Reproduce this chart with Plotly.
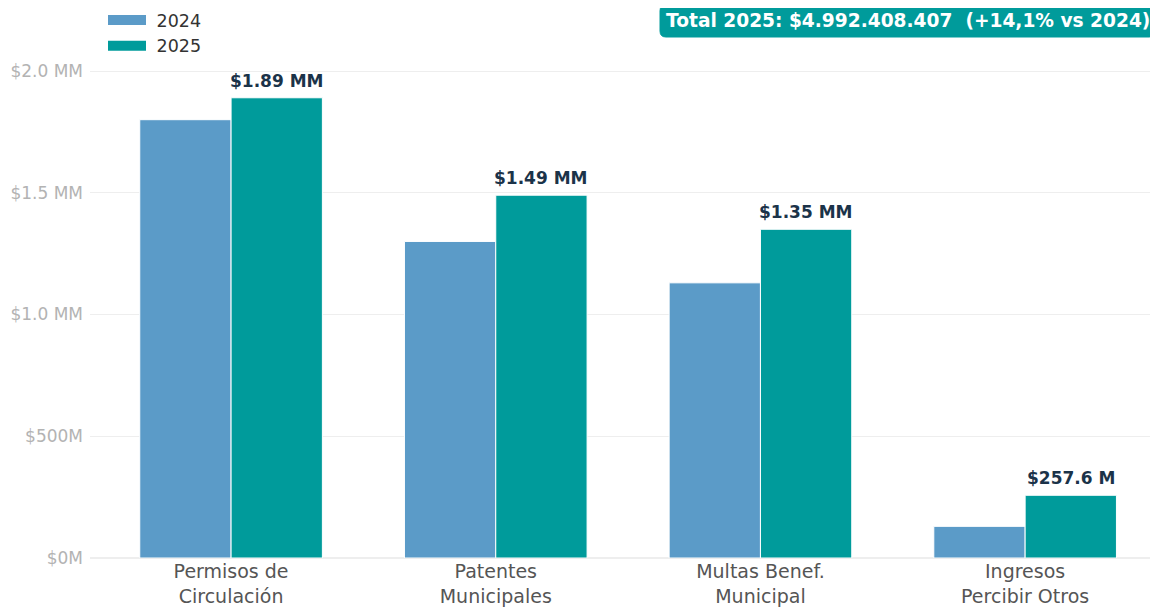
import plotly.graph_objects as go

categories = ["Permisos de<br>Circulación", "Patentes<br>Municipales", "Multas Benef.<br>Municipal", "Ingresos<br>Percibir Otros"]
values_2024 = [1.80e9, 1.30e9, 1.13e9, 0.13e9]
values_2025 = [1.89e9, 1.49e9, 1.35e9, 0.2576e9]
tick_vals = [0, 0.5e9, 1.0e9, 1.5e9, 2.0e9]
tick_text = ["$0M", "$500M", "$1.0 MM", "$1.5 MM", "$2.0 MM"]
badge_text = "Total 2025: $4.992.408.407  (+14,1% vs 2024)"

C24 = "#5b9bc8"
C25 = "#009b9b"
FONT = "DejaVu Sans"
BARGAP = 0.31

def fmt(v):
    if v >= 1e9:
        return f"${v/1e9:.2f} MM"
    return f"${v/1e6:.1f} M"

# page has an 8px body margin; plot area in window pixels: x 90..1158, y 58..558
PL, PR, PT, PB = 90, 1158, 58, 558
PW, PH = PR - PL, PB - PT

def px(x):
    return (x - PL) / PW

def py(y):
    return (PB - y) / PH

fig = go.Figure()
fig.add_trace(go.Bar(x=categories, y=values_2024, name="2024",
                     marker=dict(color=C24, line=dict(color="white", width=1)), showlegend=False))
fig.add_trace(go.Bar(x=categories, y=values_2025, name="2025",
                     marker=dict(color=C25, line=dict(color="white", width=1)), showlegend=False))
fig.add_trace(go.Scatter(x=[None], y=[None], mode="lines", name=" 2024", line=dict(color=C24, width=12)))
fig.add_trace(go.Scatter(x=[None], y=[None], mode="lines", name=" 2025", line=dict(color=C25, width=12)))

half_bar = (1 - BARGAP) / 4
annotations = [dict(x=i + half_bar, y=v, xref="x", yref="y", text=fmt(v), showarrow=False,
                    xanchor="center", yanchor="bottom", yshift=5,
                    font=dict(family=FONT, size=17, color="#1b3349", weight="bold"))
               for i, v in enumerate(values_2025)]

# rounded badge
x0, x1, y0, y1, r = 660, 1155, 5, 37, 6
path = (f"M {px(x0+r)},{py(y0)} L {px(x1-r)},{py(y0)} Q {px(x1)},{py(y0)} {px(x1)},{py(y0+r)} "
        f"L {px(x1)},{py(y1-r)} Q {px(x1)},{py(y1)} {px(x1-r)},{py(y1)} "
        f"L {px(x0+r)},{py(y1)} Q {px(x0)},{py(y1)} {px(x0)},{py(y1-r)} "
        f"L {px(x0)},{py(y0+r)} Q {px(x0)},{py(y0)} {px(x0+r)},{py(y0)} Z")
annotations.append(dict(xref="paper", yref="paper", x=px((x0 + x1) / 2), y=py((y0 + y1) / 2),
                        xanchor="center", yanchor="middle", text=badge_text, showarrow=False,
                        font=dict(family=FONT, size=18.6, color="white", weight="bold")))

ymax = 2.0e9 * (PB - PT) / 487
fig.update_layout(
    width=1150, height=599,
    margin=dict(l=PL - 8, r=0, t=PT - 8, b=49, autoexpand=False),
    paper_bgcolor="white", plot_bgcolor="white",
    barmode="group", bargap=BARGAP, bargroupgap=0.0,
    font=dict(family=FONT, color="#444"),
    legend=dict(x=px(103), y=py(2), xanchor="left", yanchor="top", font=dict(size=17.5, color="#333"),
                bgcolor="rgba(0,0,0,0)", itemwidth=38, tracegroupgap=0),
    xaxis=dict(range=[-0.533, 3.502], showgrid=False, showline=False, ticks="",
               tickfont=dict(size=19, color="#555")),
    yaxis=dict(range=[0, ymax], tickvals=tick_vals, ticktext=tick_text, showgrid=True,
               gridcolor="#eeeeee", gridwidth=1, zeroline=True, zerolinecolor="#eeeeee",
               tickfont=dict(size=17, color="#b3b3b3"), ticks="", showline=False,
               ticklabelstandoff=6),
    shapes=[dict(type="path", xref="paper", yref="paper", path=path, fillcolor=C25,
                 line=dict(color=C25, width=1), layer="above")],
    annotations=annotations,
)
fig.write_html("out.html")
